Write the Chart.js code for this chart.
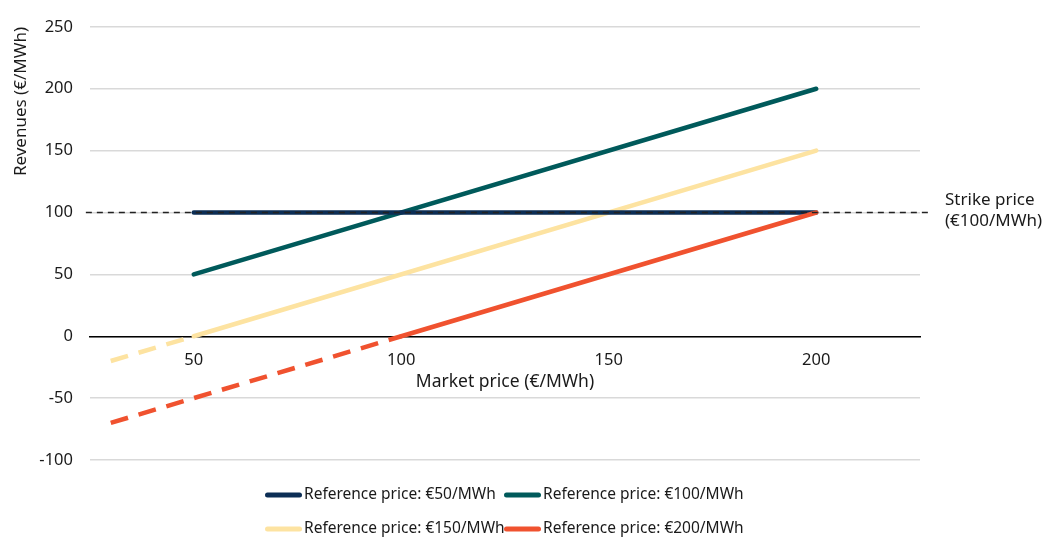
<!DOCTYPE html>
<html>
<head>
<meta charset="utf-8">
<script src="https://cdn.jsdelivr.net/npm/chart.js@4.4.1/dist/chart.umd.min.js"></script>
<style>
  html, body { margin: 0; padding: 0; background: #fff; }
  #wrap { width: 1046px; height: 537px; }
</style>
</head>
<body>
<div id="wrap"><canvas id="myChart"></canvas></div>
<script>
// values
var xTicks = [50, 100, 150, 200];
var yTicks = [-100, -50, 0, 50, 100, 150, 200, 250];
var seriesLabels = ["Reference price: €50/MWh", "Reference price: €100/MWh",
                    "Reference price: €150/MWh", "Reference price: €200/MWh"];
var seriesColors = ["#0c2e55", "#005a5b", "#fde3a1", "#f0522f"];

var ref50X = [50, 200],    ref50Y = [100, 100];
var ref100X = [50, 200],   ref100Y = [50, 200];
var ref150X = [50, 200],   ref150Y = [0, 150];
var ref150DashX = [30, 50],  ref150DashY = [-20, 0];
var ref200X = [100, 200],  ref200Y = [0, 100];
var ref200DashX = [30, 100], ref200DashY = [-70, 0];

var strikePrice = 100;
var strikeX = [24, 227.5];
var strikeLabel = ["Strike price", "(€100/MWh)"];

var FONT = '"Noto Sans", sans-serif';
var TEXT = "#1a1a1a";

function pts(xs, ys) {
    return xs.map(function(x, i) { return {x: x, y: ys[i]}; });
}

function solid(label, xs, ys, color) {
    return {label: label, data: pts(xs, ys), borderColor: color, backgroundColor: color,
            borderWidth: 4.5, pointRadius: 0, borderCapStyle: "round", fill: false};
}

function dashed(xs, ys, color) {
    return {label: "", data: pts(xs, ys), borderColor: color, backgroundColor: color,
            borderWidth: 4.5, pointRadius: 0, borderDash: [18, 11], fill: false};
}

// legend drawn in two rows of two, like the original
var twoRowLegend = {
    id: "twoRowLegend",
    afterDraw: function(chart) {
        var ctx = chart.ctx;
        var area = chart.chartArea;
        var startX = (area.left + area.right) / 2 - 240;
        ctx.save();
        ctx.font = "15.5px " + FONT;
        ctx.textBaseline = "middle";
        seriesLabels.forEach(function(label, i) {
            var x = startX + (i % 2) * 239;
            var y = area.bottom + 35 + Math.floor(i / 2) * 34;
            ctx.strokeStyle = seriesColors[i];
            ctx.lineWidth = 5;
            ctx.lineCap = "round";
            ctx.beginPath();
            ctx.moveTo(x + 2.5, y);
            ctx.lineTo(x + 34.5, y);
            ctx.stroke();
            ctx.fillStyle = TEXT;
            ctx.fillText(label, x + 39, y);
        });
        ctx.restore();
    }
};

var strikeText = {
    id: "strikeText",
    afterDraw: function(chart) {
        var ctx = chart.ctx;
        var y = chart.scales.y.getPixelForValue(strikePrice);
        var x = chart.chartArea.right + 25;
        ctx.save();
        ctx.font = "17px " + FONT;
        ctx.fillStyle = TEXT;
        ctx.textBaseline = "middle";
        ctx.fillText(strikeLabel[0], x, y - 12);
        ctx.fillText(strikeLabel[1], x, y + 9);
        ctx.restore();
    }
};

var ctx = document.getElementById("myChart").getContext("2d");
var myChart = new Chart(ctx, {
    type: "line",
    data: {
        datasets: [
            {label: "Strike price", data: pts(strikeX, [strikePrice, strikePrice]),
             borderColor: "#222", borderWidth: 1.5, borderDash: [6, 5], pointRadius: 0,
             clip: false, fill: false},
            solid(seriesLabels[3], ref200X, ref200Y, seriesColors[3]),
            dashed(ref200DashX, ref200DashY, seriesColors[3]),
            solid(seriesLabels[0], ref50X, ref50Y, seriesColors[0]),
            solid(seriesLabels[2], ref150X, ref150Y, seriesColors[2]),
            dashed(ref150DashX, ref150DashY, seriesColors[2]),
            solid(seriesLabels[1], ref100X, ref100Y, seriesColors[1])
        ]
    },
    options: {
        responsive: true,
        maintainAspectRatio: false,
        animation: false,
        layout: {padding: {left: 0, right: 126, top: 22, bottom: 77}},
        plugins: {
            legend: {display: false},
            tooltip: {enabled: false}
        },
        scales: {
            x: {
                type: "linear",
                position: {y: 0},
                min: 25,
                max: 225,
                afterBuildTicks: function(axis) {
                    axis.ticks = xTicks.map(function(v) { return {value: v}; });
                },
                grid: {display: false},
                border: {display: true, color: "#000", width: 1.5},
                ticks: {color: TEXT, font: {family: FONT, size: 16.5}, padding: 6, maxRotation: 0},
                title: {display: true, text: "Market price (€/MWh)", color: TEXT,
                        font: {family: FONT, size: 17.5}, padding: {top: -5, bottom: 4}}
            },
            y: {
                type: "linear",
                min: -100,
                max: 250,
                afterBuildTicks: function(axis) {
                    axis.ticks = yTicks.map(function(v) { return {value: v}; });
                },
                afterFit: function(axis) { axis.width = 90; },
                grid: {color: "#d9d9d9", lineWidth: 1.5, drawTicks: false},
                border: {display: false},
                ticks: {color: TEXT, font: {family: FONT, size: 16.5}, padding: 17},
                title: {display: true, text: "Revenues (€/MWh)", color: TEXT, align: "end",
                        font: {family: FONT, size: 17}, padding: {top: 11, bottom: 0}}
            }
        }
    },
    plugins: [twoRowLegend, strikeText]
});
</script>
</body>
</html>
